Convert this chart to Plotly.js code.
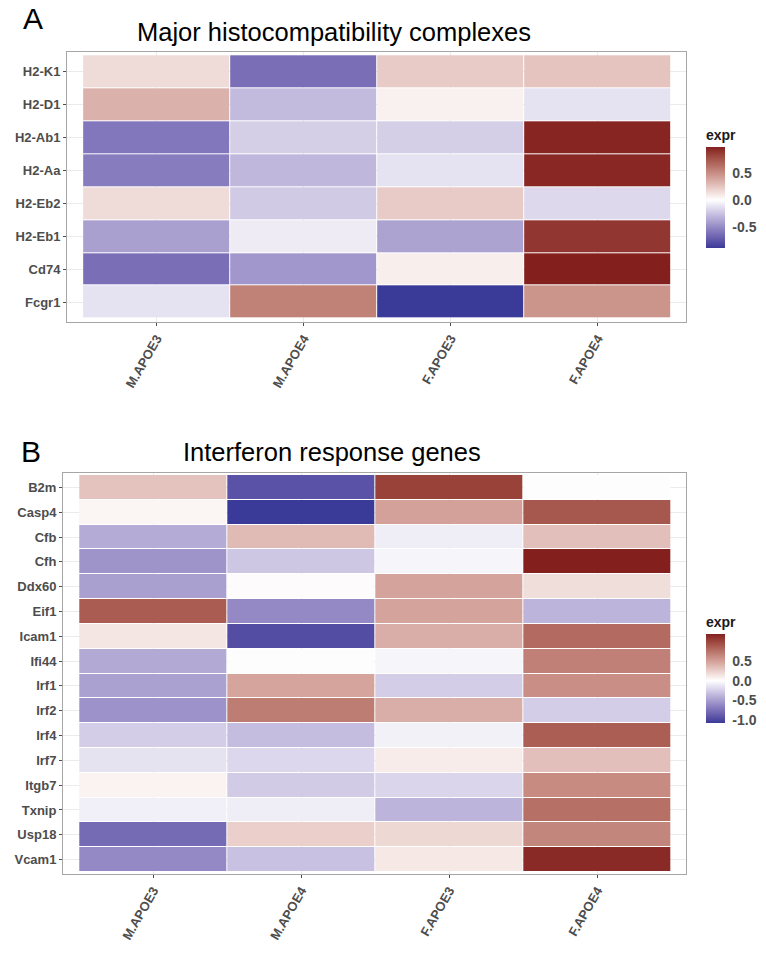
<!DOCTYPE html>
<html>
<head>
<meta charset="utf-8">
<script src="https://cdn.plot.ly/plotly-3.0.1.min.js"></script>
<style>html,body{margin:0;padding:0;background:#fff;}#chart{width:766px;height:954px;}</style>
</head>
<body>
<div id="chart"></div>
<script>
// ---------- data ----------
const groups = ["M.APOE3", "M.APOE4", "F.APOE3", "F.APOE4"];

const mhcGenes = ["H2-K1", "H2-D1", "H2-Ab1", "H2-Aa", "H2-Eb2", "H2-Eb1", "Cd74", "Fcgr1"];
const mhc_M_APOE3 = [0.15, 0.33, -0.58, -0.56, 0.15, -0.40, -0.62, -0.12];
const mhc_M_APOE4 = [-0.62, -0.28, -0.20, -0.30, -0.22, -0.08, -0.44, 0.55];
const mhc_F_APOE3 = [0.22, 0.06, -0.20, -0.12, 0.22, -0.39, 0.07, -0.88];
const mhc_F_APOE4 = [0.25, -0.12, 0.95, 0.94, -0.16, 0.88, 0.97, 0.46];

const ifnGenes = ["B2m", "Casp4", "Cfb", "Cfh", "Ddx60", "Eif1", "Icam1", "Ifi44", "Irf1", "Irf2", "Irf4", "Irf7", "Itgb7", "Txnip", "Usp18", "Vcam1"];
const ifn_M_APOE3 = [0.31, 0.05, -0.43, -0.55, -0.49, 0.87, 0.13, -0.44, -0.48, -0.56, -0.25, -0.14, 0.06, -0.08, -0.78, -0.61];
const ifn_M_APOE4 = [-0.92, -1.07, 0.35, -0.28, 0.02, -0.61, -0.95, -0.01, 0.47, 0.69, -0.33, -0.20, -0.26, -0.09, 0.25, -0.31];
const ifn_F_APOE3 = [1.01, 0.49, -0.09, -0.05, 0.48, 0.48, 0.42, -0.05, -0.25, 0.42, -0.07, 0.10, -0.21, -0.38, 0.20, 0.12];
const ifn_F_APOE4 = [0.01, 0.89, 0.33, 1.18, 0.17, -0.38, 0.79, 0.67, 0.59, -0.25, 0.86, 0.33, 0.61, 0.76, 0.64, 1.13];

const mhcTicks = [-0.5, 0, 0.5];
const ifnTicks = [-1.0, -0.5, 0, 0.5];

// ---------- colour helpers (Lab interpolation like ggplot gradient2) ----------
const LOW = "#3a3a98", MID = "#ffffff", HIGH = "#83201e";
function hexToRgb(h){h=h.replace('#','');return [0,2,4].map(i=>parseInt(h.substr(i,2),16));}
function lin(c){c/=255;return c<=0.04045?c/12.92:Math.pow((c+0.055)/1.055,2.4);}
function unlin(c){c=c<=0.0031308?12.92*c:1.055*Math.pow(c,1/2.4)-0.055;return Math.max(0,Math.min(255,Math.round(c*255)));}
function rgbToLab(rgb){
  const [r,g,b]=rgb.map(lin);
  let X=(0.4124*r+0.3576*g+0.1805*b)/0.95047, Y=(0.2126*r+0.7152*g+0.0722*b), Z=(0.0193*r+0.1192*g+0.9505*b)/1.08883;
  const f=t=>t>0.008856?Math.cbrt(t):(7.787*t+16/116);
  const fx=f(X),fy=f(Y),fz=f(Z);
  return [116*fy-16,500*(fx-fy),200*(fy-fz)];
}
function labToRgb(lab){
  const [L,a,b]=lab;
  const fy=(L+16)/116, fx=fy+a/500, fz=fy-b/200;
  const fi=t=>t*t*t>0.008856?t*t*t:(t-16/116)/7.787;
  const X=fi(fx)*0.95047, Y=fi(fy), Z=fi(fz)*1.08883;
  const r=3.2406*X-1.5372*Y-0.4986*Z, g=-0.9689*X+1.8758*Y+0.0415*Z, bb=0.0557*X-0.2040*Y+1.0570*Z;
  return [unlin(r),unlin(g),unlin(bb)];
}
function mixLab(c1,c2,t){
  const a=rgbToLab(hexToRgb(c1)), b=rgbToLab(hexToRgb(c2));
  const rgb=labToRgb([0,1,2].map(i=>a[i]+(b[i]-a[i])*t));
  return 'rgb('+rgb.join(',')+')';
}
function divergingScale(zmin,zmax){
  const f0=-zmin/(zmax-zmin), n=12, cs=[];
  for(let i=0;i<=n;i++) cs.push([f0*i/n, mixLab(LOW,MID,i/n)]);
  for(let i=1;i<=n;i++) cs.push([f0+(1-f0)*i/n, mixLab(MID,HIGH,i/n)]);
  return cs;
}
function transpose(cols){return cols[0].map((_,r)=>cols.map(c=>c[r]));}

const mhcZ = transpose([mhc_M_APOE3, mhc_M_APOE4, mhc_F_APOE3, mhc_F_APOE4]);
const ifnZ = transpose([ifn_M_APOE3, ifn_M_APOE4, ifn_F_APOE3, ifn_F_APOE4]);
const flat = z => z.reduce((a,r)=>a.concat(r),[]);
const mhcMin=Math.min(...flat(mhcZ)), mhcMax=Math.max(...flat(mhcZ));
const ifnMin=Math.min(...flat(ifnZ)), ifnMax=Math.max(...flat(ifnZ));

// ---------- layout geometry ----------
const W=766, H=954;
const px = v => v/W, py = v => 1 - v/H;
const labFont = {family:"Liberation Sans, Arial, sans-serif", size:13, color:"#4d4d4d", weight:"bold"};
const cbFont = {family:"Liberation Sans, Arial, sans-serif", size:14, color:"#4d4d4d", weight:"bold"};
const fmt = v => v.toFixed(1);

function cbar(ticks, top, bottom){
  return {
    x: px(706), xanchor:"left", xpad:0,
    y: py((top+bottom)/2), yanchor:"middle", ypad:0,
    len: bottom-top, lenmode:"pixels", thickness:19, thicknessmode:"pixels",
    outlinewidth:0,
    tickvals: ticks, ticktext: ticks.map(fmt),
    ticks:"outside", ticklen:5, tickcolor:"rgba(255,255,255,0)", tickwidth:1,
    tickfont: cbFont,
    title:{text:"expr", side:"top", font:{family:"Liberation Sans, Arial, sans-serif", size:14, color:"#1a1a1a", weight:"bold"}}
  };
}

const traces = [
  {type:"heatmap", x:groups, y:mhcGenes, z:mhcZ, xaxis:"x", yaxis:"y",
   zmin:mhcMin, zmax:mhcMax, colorscale:divergingScale(mhcMin,mhcMax),
   xgap:1, ygap:1, colorbar:cbar(mhcTicks,126,248)},
  {type:"heatmap", x:groups, y:ifnGenes, z:ifnZ, xaxis:"x2", yaxis:"y2",
   zmin:ifnMin, zmax:ifnMax, colorscale:divergingScale(ifnMin,ifnMax),
   xgap:1, ygap:1, colorbar:cbar(ifnTicks,613,723)}
];

function xax(l,r,anchor){
  return {domain:[px(l),px(r)], anchor:anchor, type:"category", categoryarray:groups,
    range:[-0.61,3.6], showgrid:true, gridcolor:"#ebebeb", gridwidth:1,
    showline:true, mirror:true, linecolor:"#a6a6a6", linewidth:1,
    ticks:"outside", ticklen:3, tickcolor:"#4d4d4d", tickangle:-60,
    tickfont:labFont, automargin:false, zeroline:false, fixedrange:true};
}
function yax(t,b,anchor,cats){
  return {domain:[py(b),py(t)], anchor:anchor, type:"category", categoryarray:cats,
    range:[cats.length-0.4,-0.6], showgrid:true, gridcolor:"#ebebeb", gridwidth:1,
    showline:true, mirror:true, linecolor:"#a6a6a6", linewidth:1,
    ticks:"outside", ticklen:3, tickcolor:"#4d4d4d",
    tickfont:labFont, automargin:false, zeroline:false, fixedrange:true};
}

const titleFont = {family:"Liberation Sans, Arial, sans-serif", size:25.5, color:"#000000"};
const letterFont = {family:"Liberation Sans, Arial, sans-serif", size:30, color:"#000000"};

const layout = {
  width:W, height:H, margin:{l:0,r:0,t:0,b:0},
  paper_bgcolor:"#ffffff", plot_bgcolor:"#ffffff", showlegend:false,
  xaxis: xax(67,686,"y"),
  yaxis: yax(52,322,"x",mhcGenes),
  xaxis2: xax(63,686,"y2"),
  yaxis2: {...yax(473,874,"x2",ifnGenes), range:[ifnGenes.length-0.42,-0.58]},
  annotations:[
    {text:"A", xref:"paper", yref:"paper", x:px(33), y:py(19), xanchor:"center", yanchor:"middle", showarrow:false, font:letterFont},
    {text:"Major histocompatibility complexes", xref:"paper", yref:"paper", x:px(334), y:py(32), xanchor:"center", yanchor:"middle", showarrow:false, font:titleFont},
    {text:"B", xref:"paper", yref:"paper", x:px(31), y:py(451), xanchor:"center", yanchor:"middle", showarrow:false, font:letterFont},
    {text:"Interferon response genes", xref:"paper", yref:"paper", x:px(332), y:py(452), xanchor:"center", yanchor:"middle", showarrow:false, font:titleFont}
  ]
};

Plotly.newPlot("chart", traces, layout, {displayModeBar:false, staticPlot:true});
</script>
</body>
</html>
